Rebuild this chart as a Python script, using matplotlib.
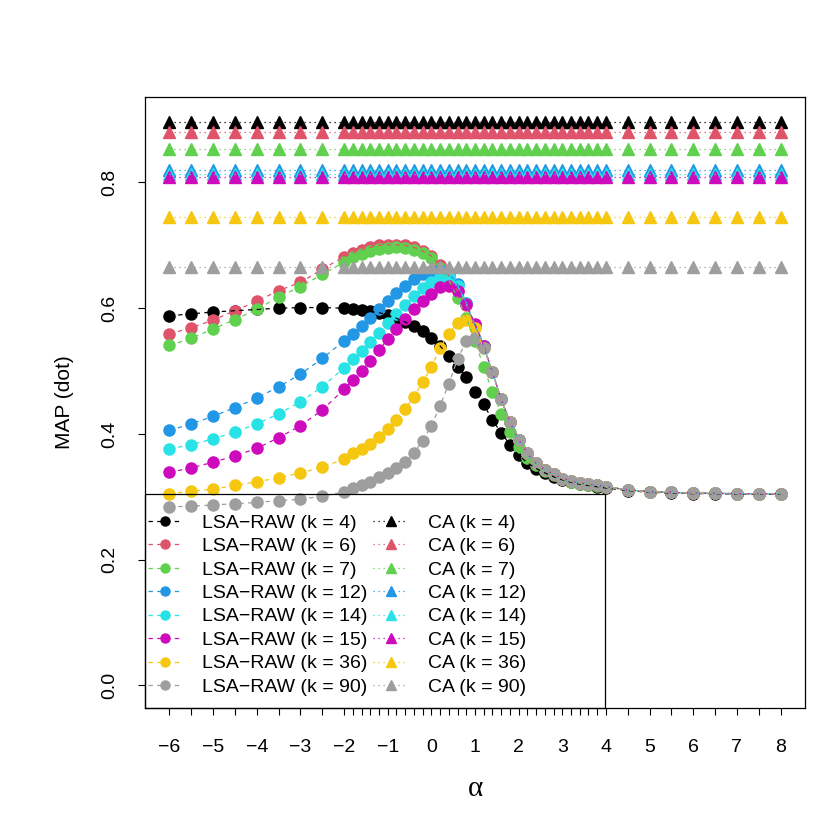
import numpy as np
import matplotlib
matplotlib.use('Agg')
import matplotlib.pyplot as plt
from matplotlib.lines import Line2D
from matplotlib.patches import Rectangle

plt.rcParams['font.family'] = ['Liberation Sans', 'DejaVu Sans']

# alpha grid (x axis)
alpha = [-6, -5.5, -5, -4.5, -4, -3.5, -3, -2.5,
         -2.0, -1.8, -1.6, -1.4, -1.2, -1.0, -0.8, -0.6, -0.4, -0.2, 0.0,
         0.2, 0.4, 0.6, 0.8, 1.0, 1.2, 1.4, 1.6, 1.8, 2.0,
         2.2, 2.4, 2.6, 2.8, 3.0, 3.2, 3.4, 3.6, 3.8, 4.0,
         4.5, 5, 5.5, 6, 6.5, 7, 7.5, 8]

k_values = [4, 6, 7, 12, 14, 15, 36, 90]
colors = ['#000000', '#DF536B', '#61D04F', '#2297E6', '#28E2E5', '#CD0BBC', '#F5C710', '#9E9E9E']

# common tail where most LSA-RAW curves coincide (alpha = 1.4 .. 8)
tail_14 = [0.498, 0.455, 0.419, 0.391,
           0.369, 0.353, 0.343, 0.336, 0.329, 0.325, 0.322, 0.320, 0.318, 0.316,
           0.311, 0.308, 0.307, 0.306, 0.3055, 0.305, 0.305, 0.305]
tail_45 = tail_14[-8:]

lsa_k4 = [0.588, 0.591, 0.594, 0.596, 0.598, 0.600, 0.601, 0.601,
          0.600, 0.598, 0.597, 0.595, 0.593, 0.589, 0.584, 0.578, 0.571, 0.563, 0.552,
          0.540, 0.524, 0.507, 0.490, 0.467, 0.447, 0.422, 0.402, 0.383, 0.366,
          0.354, 0.345, 0.338, 0.332, 0.327, 0.323, 0.320, 0.318, 0.316, 0.314,
          0.310, 0.307, 0.306, 0.305, 0.305, 0.304, 0.304, 0.304]
lsa_k6 = [0.559, 0.569, 0.581, 0.596, 0.611, 0.628, 0.641, 0.662,
          0.682, 0.688, 0.693, 0.697, 0.700, 0.701, 0.701, 0.700, 0.697, 0.691, 0.683,
          0.668, 0.652, 0.628, 0.605, 0.572, 0.540] + tail_14
lsa_k7 = [0.541, 0.552, 0.567, 0.582, 0.598, 0.618, 0.634, 0.654,
          0.673, 0.681, 0.687, 0.691, 0.694, 0.696, 0.697, 0.696, 0.693, 0.688, 0.680,
          0.664, 0.645, 0.617, 0.585, 0.548, 0.506, 0.467, 0.432, 0.403, 0.380,
          0.362, 0.350, 0.341, 0.334, 0.328, 0.324, 0.321, 0.319, 0.317, 0.315] + tail_45
lsa_k12 = [0.4055, 0.416, 0.428, 0.442, 0.457, 0.475, 0.495, 0.520,
           0.548, 0.559, 0.571, 0.584, 0.598, 0.611, 0.624, 0.635, 0.646, 0.654, 0.659,
           0.661, 0.656, 0.638, 0.608, 0.573, 0.540] + tail_14
lsa_k14 = [0.376, 0.383, 0.392, 0.403, 0.416, 0.432, 0.451, 0.475,
           0.505, 0.519, 0.532, 0.547, 0.561, 0.577, 0.591, 0.605, 0.619, 0.632, 0.642,
           0.650, 0.650, 0.636, 0.608, 0.573, 0.540] + tail_14
lsa_k15 = [0.339, 0.346, 0.355, 0.365, 0.377, 0.394, 0.413, 0.438,
           0.471, 0.485, 0.500, 0.516, 0.533, 0.551, 0.567, 0.583, 0.598, 0.612, 0.623,
           0.633, 0.635, 0.627, 0.606, 0.575, 0.540] + tail_14
lsa_k36 = [0.305, 0.309, 0.312, 0.318, 0.324, 0.330, 0.338, 0.347,
           0.360, 0.369, 0.376, 0.384, 0.395, 0.408, 0.422, 0.440, 0.459, 0.482, 0.506,
           0.537, 0.559, 0.577, 0.582, 0.569, 0.537] + tail_14
lsa_k90 = [0.284, 0.285, 0.287, 0.289, 0.291, 0.294, 0.296, 0.301,
           0.308, 0.314, 0.318, 0.324, 0.331, 0.338, 0.346, 0.355, 0.370, 0.389, 0.413,
           0.445, 0.480, 0.519, 0.548, 0.553, 0.537] + tail_14

lsa_all = [lsa_k4, lsa_k6, lsa_k7, lsa_k12, lsa_k14, lsa_k15, lsa_k36, lsa_k90]

# CA does not depend on alpha
ca_map = [0.896, 0.880, 0.854, 0.8195, 0.814, 0.8087, 0.745, 0.665]

fig = plt.figure(figsize=(8.3, 8.3), dpi=100)
ax = fig.add_axes([145/830, 1 - 708/830, 660/830, 611/830])

dash = (0, (3.5, 3.5))
dot = (0, (1, 3))

for vals, c in zip(lsa_all, colors):
    ax.plot(alpha, vals, ls='none', marker='o', ms=8, color=c, mec=c, zorder=2)
    ax.plot(alpha, vals, ls=dash, lw=0.9, color=c, zorder=3)

for v, c in zip(ca_map, colors):
    ax.plot(alpha, [v] * len(alpha), ls='none', marker='^', ms=9, color=c, mec=c, zorder=4)
    ax.plot(alpha, [v] * len(alpha), ls=dot, lw=0.9, color=c, zorder=5)

ax.set_xlim(-6.56, 8.56)
ax.set_ylim(-0.036, 0.936)

xlabels = []
for a in alpha:
    if float(a).is_integer():
        xlabels.append(str(int(a)).replace('-', '\u2212'))
    else:
        xlabels.append('')
ax.set_xticks(alpha)
ax.set_xticklabels(xlabels, fontsize=14)
ax.set_yticks([0.0, 0.2, 0.4, 0.6, 0.8])
ax.set_yticklabels(['0.0', '0.2', '0.4', '0.6', '0.8'], fontsize=14, rotation=90, va='center')
ax.tick_params(axis='x', direction='out', length=5, width=0.8, pad=17)
ax.tick_params(axis='y', direction='out', length=5, width=0.8, pad=14)

for s in ax.spines.values():
    s.set_linewidth(0.9)

ax.set_xlabel('\u03b1', fontsize=21, labelpad=15, family=['Liberation Serif', 'DejaVu Serif'])
ax.set_ylabel('MAP (dot)', fontsize=15, labelpad=20)

handles = []
labels = []
for k, c in zip(k_values, colors):
    handles.append(Line2D([], [], color=c, ls=dash, lw=0.9, marker='o', ms=6.5))
    labels.append('LSA\u2212RAW (k = %d)' % k)
for k, c in zip(k_values, colors):
    handles.append(Line2D([], [], color=c, ls=dot, lw=0.9, marker='^', ms=7))
    labels.append('CA (k = %d)' % k)

# legend box like R's, anchored at the bottom-left corner
ax.add_patch(Rectangle((0, 0), 460/660, 214/611, transform=ax.transAxes,
                       fill=False, edgecolor='black', lw=0.9, zorder=9, clip_on=False))
leg = ax.legend(handles, labels, ncol=2, loc='lower left', bbox_to_anchor=(0.004, 0.02),
                borderaxespad=0, borderpad=0, fontsize=14, frameon=False,
                handlelength=1.8, handletextpad=1.0, columnspacing=0.3,
                labelspacing=0.3)
leg.set_zorder(10)

fig.savefig('out.png', dpi=100)
